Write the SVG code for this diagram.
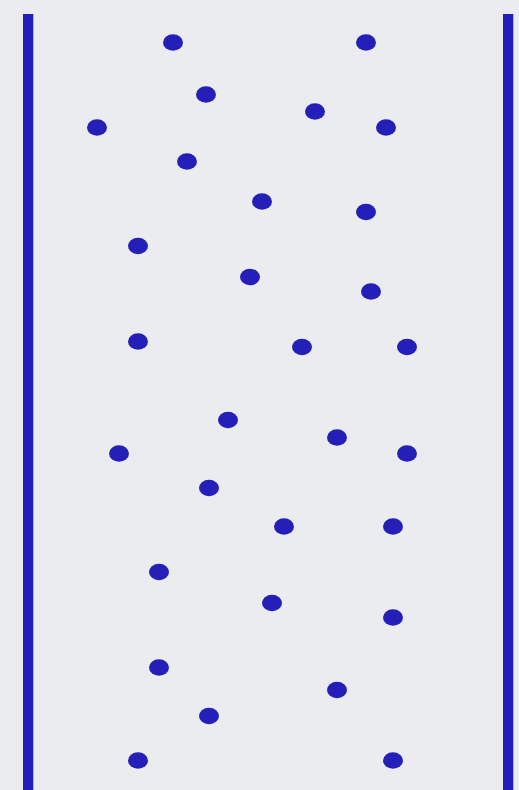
<svg xmlns="http://www.w3.org/2000/svg" width="519" height="790" viewBox="0 0 519 790">
<style>
.bar{fill:#241fb8}
.dot{fill:#241fb8}
</style>
<defs><ellipse id="d" rx="10" ry="8.3" class="dot"/></defs>
<rect width="519" height="790" fill="#ebecf0"/>
<rect class="bar" x="23" y="14" width="10.3" height="776"/>
<rect class="bar" x="503" y="14" width="10.3" height="776"/>
<g id="dots">
<use href="#d" x="173" y="42.5"/>
<use href="#d" x="366" y="42.5"/>
<use href="#d" x="206" y="94.5"/>
<use href="#d" x="315" y="111.5"/>
<use href="#d" x="97" y="127.5"/>
<use href="#d" x="386" y="127.5"/>
<use href="#d" x="187" y="161.5"/>
<use href="#d" x="262" y="201.5"/>
<use href="#d" x="366" y="212"/>
<use href="#d" x="138" y="246"/>
<use href="#d" x="250" y="277"/>
<use href="#d" x="371" y="291.5"/>
<use href="#d" x="138" y="341.5"/>
<use href="#d" x="302" y="347"/>
<use href="#d" x="407" y="347"/>
<use href="#d" x="228" y="420"/>
<use href="#d" x="337" y="437.5"/>
<use href="#d" x="119" y="453.5"/>
<use href="#d" x="407" y="453.5"/>
<use href="#d" x="209" y="488"/>
<use href="#d" x="284" y="526.5"/>
<use href="#d" x="393" y="526.5"/>
<use href="#d" x="159" y="572"/>
<use href="#d" x="272" y="603"/>
<use href="#d" x="393" y="617.5"/>
<use href="#d" x="159" y="667.5"/>
<use href="#d" x="337" y="690"/>
<use href="#d" x="209" y="716"/>
<use href="#d" x="138" y="760.5"/>
<use href="#d" x="393" y="760.5"/>
</g>
</svg>
